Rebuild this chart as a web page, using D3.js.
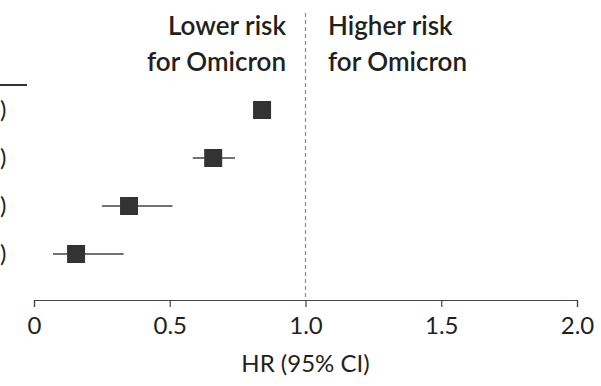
<!DOCTYPE html>
<html>
<head>
<meta charset="utf-8">
<script src="https://cdn.jsdelivr.net/npm/d3@7"></script>
<style>
  html, body { margin: 0; padding: 0; background: #fff; }
  svg { display: block; }
  text { font-family: Lato, "Open Sans", sans-serif; fill: #231f20; }
</style>
</head>
<body>
<svg id="chart" width="601" height="386"></svg>
<script>
// Data
const rows = ["Row 1", "Row 2", "Row 3", "Row 4"];
const hr = [0.84, 0.66, 0.35, 0.155];
const ciLow = [0.81, 0.585, 0.25, 0.07];
const ciHigh = [0.87, 0.74, 0.51, 0.33];
const rowEdgeText = [")", ")", ")", ")"];
const ticks = [0, 0.5, 1.0, 1.5, 2.0];
const tickLabels = ["0", "0.5", "1.0", "1.5", "2.0"];

const svg = d3.select("#chart");
const x = d3.scaleLinear().domain([0, 2]).range([34, 577]);
const y = d3.scalePoint().domain(rows).range([110, 254]);

// header underline of the (cropped) table at left
svg.append("line").attr("x1", 0).attr("x2", 27).attr("y1", 85).attr("y2", 85)
  .attr("stroke", "#333").attr("stroke-width", 2);

// edge of the cropped CI text column
svg.selectAll("text.ci").data(rows).join("text").attr("class", "ci")
  .attr("x", 0).attr("y", d => y(d) + 8)
  .attr("font-size", 24)
  .text((d, i) => rowEdgeText[i]);

// reference line at 1
svg.append("line").attr("x1", x(1)).attr("x2", x(1)).attr("y1", 13).attr("y2", 300)
  .attr("stroke", "#8a8a8a").attr("stroke-width", 1.2).attr("stroke-dasharray", "4,3");

// direction labels
const lab = svg.append("g").attr("font-size", 26).attr("font-weight", 600);
lab.append("text").attr("x", 286).attr("y", 35).attr("text-anchor", "end").text("Lower risk");
lab.append("text").attr("x", 286).attr("y", 71).attr("text-anchor", "end").text("for Omicron");
lab.append("text").attr("x", 328).attr("y", 35).text("Higher risk");
lab.append("text").attr("x", 328).attr("y", 71).text("for Omicron");

// CI lines
svg.selectAll("line.ci").data(rows).join("line").attr("class", "ci")
  .attr("x1", (d, i) => x(ciLow[i])).attr("x2", (d, i) => x(ciHigh[i]))
  .attr("y1", d => y(d)).attr("y2", d => y(d))
  .attr("stroke", "#444").attr("stroke-width", 1.6);

// squares
const s = 18;
svg.selectAll("rect.pt").data(rows).join("rect").attr("class", "pt")
  .attr("x", (d, i) => x(hr[i]) - s / 2).attr("y", d => y(d) - s / 2)
  .attr("width", s).attr("height", s).attr("fill", "#333");

// axis
const axis = d3.axisBottom(x).tickValues(ticks).tickSize(7).tickPadding(10)
  .tickFormat((d, i) => tickLabels[i]);
const ga = svg.append("g").attr("transform", "translate(0,300)").call(axis);
ga.select(".domain").attr("stroke", "#444").attr("stroke-width", 1.2);
ga.selectAll(".tick line").attr("stroke", "#444").attr("stroke-width", 1.2);
ga.selectAll(".tick text").attr("font-size", 24).attr("font-family", "Lato, sans-serif").attr("fill", "#231f20");

svg.append("text").attr("x", x(1)).attr("y", 372).attr("text-anchor", "middle")
  .attr("font-size", 24).text("HR (95% CI)");
</script>
</body>
</html>
